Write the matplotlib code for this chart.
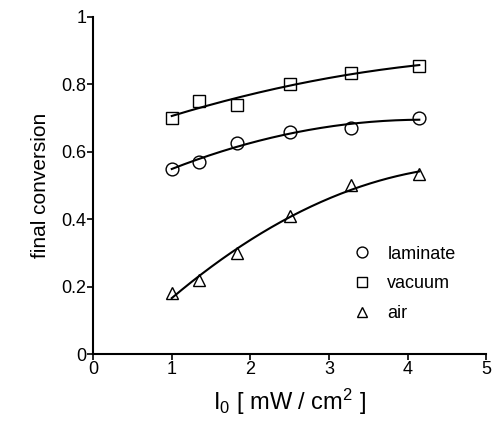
import numpy as np
import matplotlib
matplotlib.use("Agg")
import matplotlib.pyplot as plt

plt.rcParams['font.family'] = ['Liberation Sans', 'DejaVu Sans']
plt.rcParams['mathtext.fontset'] = 'custom'
plt.rcParams['mathtext.rm'] = 'Liberation Sans'
plt.rcParams['mathtext.it'] = 'Liberation Sans'

intensity = [1.0, 1.35, 1.83, 2.5, 3.28, 4.15]
laminate = [0.55, 0.57, 0.625, 0.66, 0.67, 0.70]
vacuum = [0.70, 0.75, 0.74, 0.80, 0.835, 0.855]
air = [0.18, 0.22, 0.30, 0.41, 0.50, 0.535]
labels = ['laminate', 'vacuum', 'air']
markers = ['o', 's', '^']

fig = plt.figure(figsize=(4.93, 4.24), dpi=100)
ax = fig.add_axes([0.189, 0.165, 0.797, 0.795])

xs = np.linspace(min(intensity), max(intensity), 200)
handles = []
for series, lab, m in zip([laminate, vacuum, air], labels, markers):
    c = np.polyfit(intensity, series, 2)
    ax.plot(xs, np.polyval(c, xs), color='black', lw=1.5)
    h, = ax.plot(intensity, series, linestyle='none', marker=m, markersize=9.2,
                 markerfacecolor='none', markeredgecolor='black', markeredgewidth=1.0,
                 label=lab)
    handles.append(h)

ax.set_xlim(0, 5)
ax.set_ylim(0, 1)
ax.set_xticks([0, 1, 2, 3, 4, 5])
ax.set_yticks([0, 0.2, 0.4, 0.6, 0.8, 1])
ax.set_yticklabels(['0', '0.2', '0.4', '0.6', '0.8', '1'])
for s in ['top', 'right']:
    ax.spines[s].set_visible(False)
for s in ['left', 'bottom']:
    ax.spines[s].set_linewidth(1.5)
ax.tick_params(direction='out', length=4, width=1.2, labelsize=13, pad=1)
ax.set_ylabel('final conversion', fontsize=15, labelpad=8)
ax.set_xlabel(r'I$_0$ [ mW / cm$^2$ ]', fontsize=17, labelpad=6)

ax.legend(handles=handles, loc='upper left', bbox_to_anchor=(0.62, 0.37),
          frameon=False, fontsize=13, handlelength=1.0, handletextpad=0.9,
          labelspacing=0.7, markerscale=0.85)

fig.savefig('out.png', dpi=100)
